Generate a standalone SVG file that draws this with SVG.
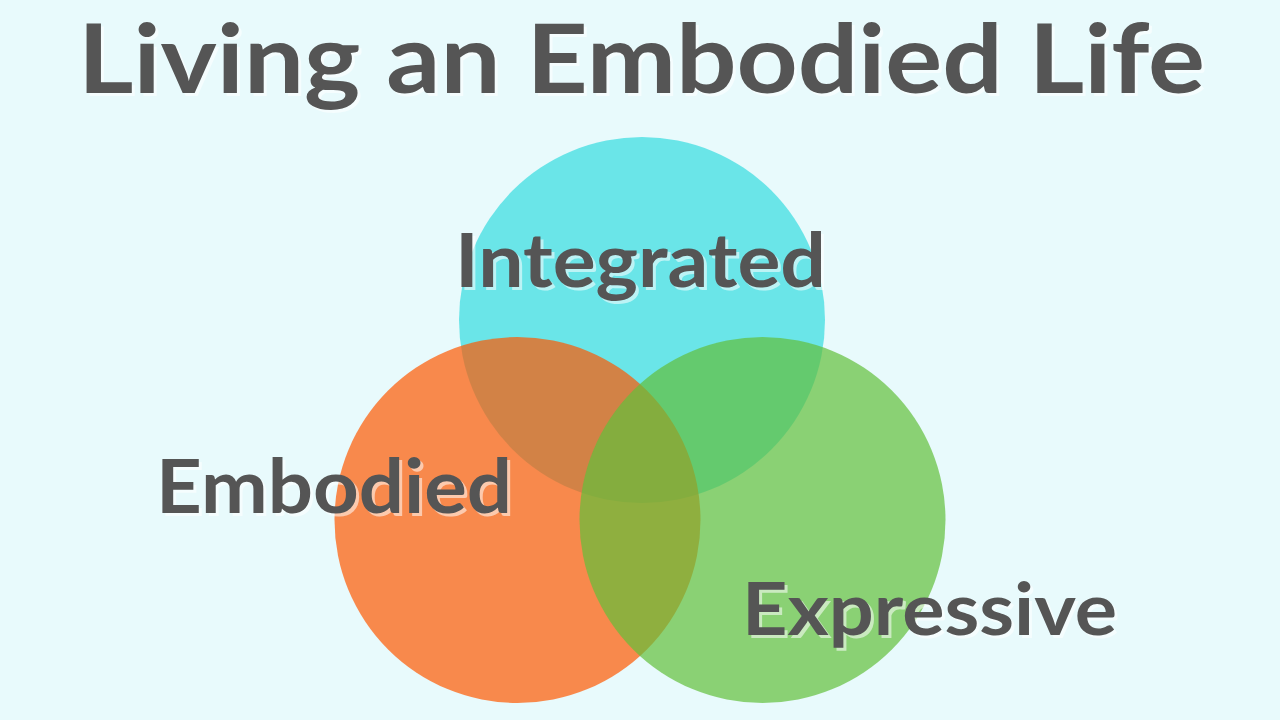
<svg xmlns="http://www.w3.org/2000/svg" width="1280" height="720" viewBox="0 0 1280 720">
<style>
.t{font-family:Lato,"Liberation Sans",sans-serif;font-weight:bold;fill:#555555}
.s{font-family:Lato,"Liberation Sans",sans-serif;font-weight:bold;fill:#ffffff;fill-opacity:0.55}
</style>
<rect width="1280" height="720" fill="#E8FAFC"/>
<g id="title">
<text class="s" x="81" y="96" font-size="96" textLength="1127" lengthAdjust="spacingAndGlyphs">Living an Embodied Life</text>
<text class="t" x="78" y="93" font-size="96" textLength="1127" lengthAdjust="spacingAndGlyphs">Living an Embodied Life</text>
</g>
<g id="integrated">
<circle cx="642" cy="320" r="183" fill="#34DCDF" fill-opacity="0.7"/>
</g>
<g id="embodied">
<circle cx="517.5" cy="520" r="183" fill="#FF5902" fill-opacity="0.7"/>
</g>
<g id="expressive">
<circle cx="762.5" cy="520" r="183" fill="#63BF3A" fill-opacity="0.7"/>
</g>
<g id="labels">
<text class="s" x="458" y="290" font-size="75" textLength="371" lengthAdjust="spacingAndGlyphs">Integrated</text>
<text class="t" x="455" y="287" font-size="75" textLength="371" lengthAdjust="spacingAndGlyphs">Integrated</text>
<text class="s" x="159" y="516" font-size="74" textLength="356" lengthAdjust="spacingAndGlyphs">Embodied</text>
<text class="t" x="156" y="513" font-size="74" textLength="356" lengthAdjust="spacingAndGlyphs">Embodied</text>
<text class="s" x="745" y="638" font-size="73" textLength="375" lengthAdjust="spacingAndGlyphs">Expressive</text>
<text class="t" x="742" y="635" font-size="73" textLength="375" lengthAdjust="spacingAndGlyphs">Expressive</text>
</g>
</svg>
